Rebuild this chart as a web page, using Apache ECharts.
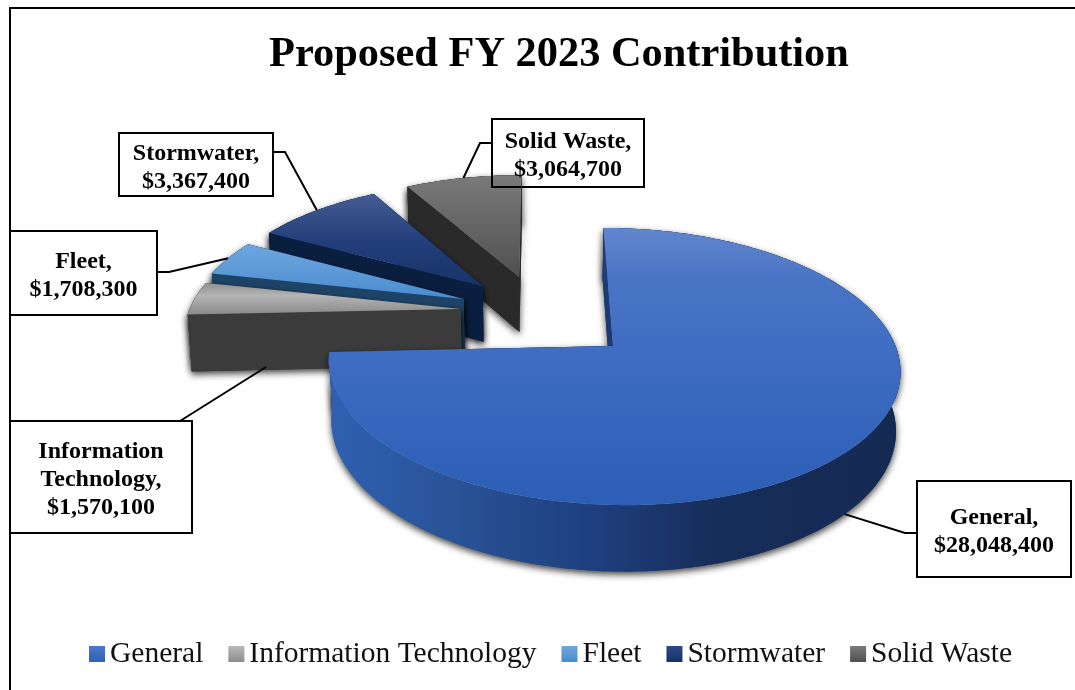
<!DOCTYPE html>
<html>
<head>
<meta charset="utf-8">
<style>html,body{margin:0;padding:0;background:#fff}#chart{width:1075px;height:690px}</style>
<script src="https://cdn.jsdelivr.net/npm/echarts@6/dist/echarts.min.js"></script>
</head>
<body>
<div id="chart"></div>
<script>
// Contribution by fund, in dollars
const categories = ['General', 'Information Technology', 'Fleet', 'Stormwater', 'Solid Waste'];
const contributions = [28048400, 1570100, 1708300, 3367400, 3064700];
const labelNames = ['General', 'Information\nTechnology', 'Fleet', 'Stormwater', 'Solid Waste'];
const chartTitle = 'Proposed FY 2023 Contribution';

// How far each slice is pulled out of the pie, and in which direction (null = its own mid angle)
const explode = [0.369, 0.29, 0.3, 0.3, 0.3];
const pullAngle = [134.8, null, null, null, null];
const paintOrder = [5, 4, 3, 2, 1];

// Perspective view of the pie: x/y scale, focal centre, tilt, thickness
const view = { x0: 539, y0: 312, ax: 272, ay: 125.7, k: 0.143, m: 0.012, depth: 57.5 };

const vGrad = stops => ({
  type: 'linear', x: 0, y: 0, x2: 0, y2: 1,
  colorStops: stops.map(s => ({ offset: s[0], color: s[1] }))
});
const hGrad = stops => ({
  type: 'linear', x: 0, y: 0, x2: 1, y2: 0,
  colorStops: stops.map(s => ({ offset: s[0], color: s[1] }))
});

const topFills = [
  vGrad([[0, '#6186cc'], [0.18, '#4a75c6'], [0.55, '#3b6ac0'], [1, '#2c5eb5']]),
  vGrad([[0, '#8f8f8f'], [0.4, '#b4b4b4'], [1, '#8a8a8a']]),
  vGrad([[0, '#6ea6de'], [1, '#4a8cd0']]),
  vGrad([[0, '#465c92'], [0.5, '#233f7c'], [1, '#173368']]),
  vGrad([[0, '#7a7a7a'], [1, '#505050']])
];
const legendFills = [
  vGrad([[0, '#4a76c8'], [1, '#2f62b8']]),
  vGrad([[0, '#b8b8b8'], [1, '#8c8c8c']]),
  vGrad([[0, '#6ea6de'], [1, '#4a8cd0']]),
  vGrad([[0, '#2c4a88'], [1, '#173368']]),
  vGrad([[0, '#7a7a7a'], [1, '#505050']])
];
const rimFills = [
  hGrad([[0, '#2f60b2'], [0.2, '#2a5499'], [0.45, '#1f4080'], [0.68, '#172d5a'], [1, '#152a52']]),
  '#3b3b3b', '#1d4468', '#0a1e40', '#2a2a2a'
];
const wallFills = ['#1b3a72', '#3b3b3b', '#1d4468', '#0a1e40', '#2a2a2a'];

// Callout boxes and the elbows of their leader lines
const callouts = [
  { box: [917, 481, 154, 96], elbow: [[917, 533], [905, 533]], plane: 'bottom' },
  { box: [10, 421, 182, 112], elbow: [[180, 421]], anchor: [266, 367] },
  { box: [10, 231, 147, 84], elbow: [[157, 272], [169, 272]], plane: 'top' },
  { box: [119, 133, 154, 63], elbow: [[273, 152], [285, 152]], plane: 'top' },
  { box: [492, 119, 152, 68], elbow: [[492, 143], [480, 143]], plane: 'top' }
];

const total = contributions.reduce((a, b) => a + b, 0);
const rad = d => d * Math.PI / 180;

// Angular extent of each slice, clockwise from twelve o'clock
const spans = [];
contributions.reduce((start, v) => {
  const end = start + v / total * 360;
  spans.push([start, end]);
  return end;
}, 0);

const centres = spans.map((s, i) => {
  const a = rad(pullAngle[i] === null ? (s[0] + s[1]) / 2 : pullAngle[i]);
  return [explode[i] * Math.sin(a), -explode[i] * Math.cos(a)];
});

function project(X, Y, lower) {
  const w = 1 - view.k * Y + (lower ? view.m : 0);
  return [
    view.x0 + view.ax * X / w,
    view.y0 + (view.ay * Y + (lower ? view.depth : 0)) / w
  ];
}
function rimPoint(i, deg, lower) {
  const c = centres[i];
  return project(c[0] + Math.sin(rad(deg)), c[1] - Math.cos(rad(deg)), lower);
}
function arc(i, lower, reverse) {
  const [a, b] = spans[i];
  const n = Math.max(4, Math.ceil(b - a));
  const pts = [];
  for (let j = 0; j <= n; j++) pts.push(rimPoint(i, a + (b - a) * j / n, lower));
  return reverse ? pts.reverse() : pts;
}

const dropShadow = { shadowBlur: 7, shadowOffsetX: 0, shadowOffsetY: 3, shadowColor: 'rgba(0,0,0,0.75)' };

function renderSlice(params) {
  const i = params.seriesIndex;
  const c = centres[i];
  const tipTop = project(c[0], c[1], false);
  const tipLow = project(c[0], c[1], true);
  const [a, b] = spans[i];
  const faceAt = deg => [tipTop, rimPoint(i, deg, false), rimPoint(i, deg, true), tipLow];
  const rim = { points: arc(i, false, false).concat(arc(i, true, true)), fill: rimFills[i] };
  const faces = [
    { points: faceAt(b), fill: wallFills[i] },
    { points: faceAt(a), fill: wallFills[i] }
  ];
  // A slice whose arc faces the viewer shows its rim in front of the cut faces; the rest the reverse
  const mid = (a + b) / 2;
  const sides = mid > 90 && mid < 270 ? faces.concat([rim]) : [rim].concat(faces);
  const poly = (s, style) => ({
    type: 'polygon',
    shape: { points: s.points },
    style: Object.assign({ fill: s.fill }, style)
  });
  return {
    type: 'group',
    children: [
      // Soft shadow first, so it never lands on the slice's own walls
      ...sides.map(s => poly(s, dropShadow)),
      ...sides.map(s => poly(s, {})),
      {
        type: 'polygon',
        shape: { points: [tipTop].concat(arc(i, false, false)) },
        style: { fill: topFills[i] }
      }
    ]
  };
}

function calloutGraphics() {
  const out = [];
  callouts.forEach((c, i) => {
    const mid = (spans[i][0] + spans[i][1]) / 2;
    const end = c.anchor || rimPoint(i, mid, c.plane === 'bottom');
    out.push({
      type: 'polyline', z: 20, silent: true,
      shape: { points: c.elbow.concat([end]) },
      style: { stroke: '#000', lineWidth: 2, fill: null }
    });
    out.push({
      type: 'rect', z: 21, silent: true,
      shape: { x: c.box[0], y: c.box[1], width: c.box[2], height: c.box[3] },
      style: { stroke: '#000', lineWidth: 2, fill: 'transparent' }
    });
    out.push({
      type: 'text', z: 22, silent: true,
      x: c.box[0] + c.box[2] / 2, y: c.box[1] + c.box[3] / 2 + 3,
      style: {
        text: labelNames[i] + ',\n$' + contributions[i].toLocaleString('en-US'),
        fill: '#000', font: 'bold 24px "Liberation Serif"',
        align: 'center', verticalAlign: 'middle', lineHeight: 28
      }
    });
  });
  // Frame around the chart area
  out.push({
    type: 'polyline', z: 30, silent: true,
    shape: { points: [[10, 690], [10, 8], [1075, 8]] },
    style: { stroke: '#000', lineWidth: 2, fill: null }
  });
  return out;
}

const chart = echarts.init(document.getElementById('chart'), null, { renderer: 'canvas' });
chart.setOption({
  animation: false,
  backgroundColor: '#fff',
  title: {
    text: chartTitle, left: 554, top: 29, textAlign: 'center',
    textStyle: { fontFamily: 'Liberation Serif', fontWeight: 'bold', fontSize: 42.4, color: '#000' }
  },
  legend: {
    data: categories, left: 84, top: 634, icon: 'rect',
    itemWidth: 16, itemHeight: 16, itemGap: 25, selectedMode: false,
    textStyle: { fontFamily: 'Liberation Serif', fontSize: 29.5, color: '#111' }
  },
  graphic: calloutGraphics(),
  series: categories.map((name, i) => ({
    type: 'custom',
    name,
    coordinateSystem: 'none',
    z: paintOrder[i],
    silent: true,
    itemStyle: { color: legendFills[i] },
    renderItem: renderSlice,
    data: [[contributions[i]]]
  }))
});
</script>
</body>
</html>
